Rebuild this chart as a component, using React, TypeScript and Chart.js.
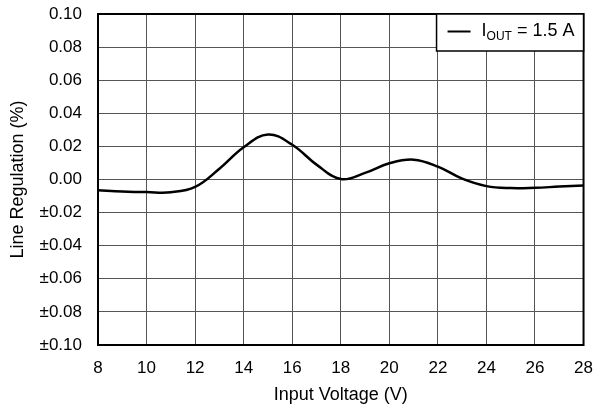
import React, { useEffect, useRef } from "react";
import { Chart, registerables } from "chart.js";

Chart.register(...registerables);

const inputVoltage = [8, 9, 10, 11, 12, 13, 14, 15, 16, 17, 18, 19, 20, 21, 22, 23, 24, 25, 26, 27, 28];
const lineRegulation = [-0.0065, -0.0072, -0.0076, -0.0077, -0.0045, 0.0065, 0.0195, 0.0272, 0.021, 0.009, 0.0003, 0.004, 0.0098, 0.012, 0.0078, 0.0005, -0.004, -0.0052, -0.005, -0.0043, -0.0037];
const xTicks = [8, 10, 12, 14, 16, 18, 20, 22, 24, 26, 28];
const yTicks = [-0.1, -0.08, -0.06, -0.04, -0.02, 0, 0.02, 0.04, 0.06, 0.08, 0.1];
const seriesLabel = "= 1.5 A";

const FONT = "'Liberation Sans', Arial, sans-serif";

const legendPlugin = {
  id: "customLegend",
  afterDraw(chart: any) {
    const { ctx, chartArea } = chart;
    const right = chartArea.right;
    const top = chartArea.top;
    const w = 147;
    const h = 37;
    const left = right - w;
    ctx.save();
    ctx.fillStyle = "#fff";
    ctx.fillRect(left, top, w, h);
    ctx.strokeStyle = "#000";
    ctx.lineWidth = 1.5;
    ctx.strokeRect(left, top, w, h);
    const cy = top + 17.5;
    ctx.lineWidth = 2;
    ctx.beginPath();
    ctx.moveTo(left + 11, cy);
    ctx.lineTo(left + 34, cy);
    ctx.stroke();
    ctx.fillStyle = "#000";
    ctx.textBaseline = "middle";
    ctx.textAlign = "left";
    ctx.font = `18px ${FONT}`;
    let x = left + 45;
    ctx.fillText("I", x, cy);
    x += ctx.measureText("I").width;
    ctx.font = `12px ${FONT}`;
    ctx.fillText("OUT", x, cy + 5);
    x += ctx.measureText("OUT").width + 5;
    ctx.font = `18px ${FONT}`;
    ctx.fillText(seriesLabel, x, cy);
    ctx.restore();
  },
};

export default function App() {
  const ref = useRef<HTMLCanvasElement>(null);
  useEffect(() => {
    document.body.style.margin = "0";
    const chart = new Chart(ref.current!, {
      type: "line",
      data: {
        datasets: [
          {
            data: inputVoltage.map((v, i) => ({ x: v, y: lineRegulation[i] })),
            borderColor: "#000",
            borderWidth: 2.5,
            pointRadius: 0,
            tension: 0.4,
            fill: false,
          },
        ],
      },
      options: {
        animation: false,
        responsive: false,
        layout: { padding: { left: 0, top: 0, right: 22, bottom: 0 } },
        plugins: { legend: { display: false }, tooltip: { enabled: false } },
        scales: {
          x: {
            type: "linear",
            min: 8,
            max: 28,
            afterBuildTicks: (s: any) => {
              s.ticks = xTicks.map((v) => ({ value: v }));
            },
            afterFit: (s: any) => {
              s.height = 65;
            },
            grid: { color: "#555", lineWidth: 1, drawTicks: false },
            border: { display: false },
            ticks: { color: "#000", font: { family: FONT, size: 17 }, padding: 13, maxRotation: 0 },
            title: { display: true, text: "Input Voltage (V)", color: "#000", font: { family: FONT, size: 18 }, padding: { top: 4, bottom: 4 } },
          },
          y: {
            type: "linear",
            min: -0.1,
            max: 0.1,
            afterBuildTicks: (s: any) => {
              s.ticks = yTicks.map((v) => ({ value: v }));
            },
            afterFit: (s: any) => {
              s.width = 98;
              s.paddingTop = 14;
              s.paddingBottom = 0;
            },
            grid: { color: "#555", lineWidth: 1, drawTicks: false },
            border: { display: false },
            ticks: {
              color: "#000",
              font: { family: FONT, size: 17 },
              padding: 16,
              callback: (v: any) => {
                const n = Number(v);
                if (Math.abs(n) < 1e-9) return "0.00";
                return n < 0 ? "±" + Math.abs(n).toFixed(2) : n.toFixed(2);
              },
            },
            title: { display: true, text: "Line Regulation (%)", color: "#000", font: { family: FONT, size: 18 }, padding: { top: 7, bottom: 7 } },
          },
        },
      },
      plugins: [
        {
          id: "frame",
          afterDatasetsDraw(chart: any) {
            const { ctx, chartArea } = chart;
            ctx.save();
            ctx.strokeStyle = "#000";
            ctx.lineWidth = 2;
            ctx.strokeRect(chartArea.left, chartArea.top, chartArea.right - chartArea.left, chartArea.bottom - chartArea.top);
            ctx.restore();
          },
        },
        legendPlugin,
      ],
    } as any);
    return () => chart.destroy();
  }, []);
  return <canvas ref={ref} width={606} height={410} style={{ display: "block" }} />;
}
